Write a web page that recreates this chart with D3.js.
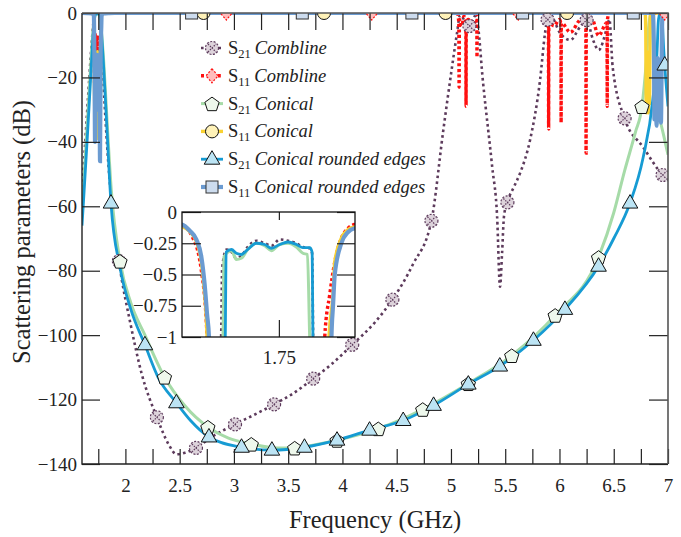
<!DOCTYPE html>
<html>
<head>
<meta charset="utf-8">
<script src="https://cdnjs.cloudflare.com/ajax/libs/d3/7.8.5/d3.min.js"></script>
<style>
  body { margin: 0; background: #fff; }
  svg text { font-family: "Liberation Serif", "Times New Roman", serif; fill: #222; }
</style>
</head>
<body>
<svg id="chart" width="681" height="537"></svg>
<script>
'use strict';

// Frequency (GHz) vs dB
const comblineS21 = [
  [1.60,-56],[1.63,-40],[1.66,-24],[1.69,-9],[1.705,-3],[1.712,-1.6],[1.7166,-1],[1.7172,-0.45],
  [1.7197,-0.30],[1.7226,-0.32],[1.7254,-0.37],[1.7283,-0.35],[1.732,-0.28],[1.737,-0.23],
  [1.7418,-0.25],[1.7457,-0.27],[1.7505,-0.22],[1.7553,-0.23],[1.7601,-0.25],[1.7639,-0.28],
  [1.7678,-0.29],[1.7692,-0.33],[1.7698,-1],[1.775,-5],[1.78,-9],[1.82,-35],[1.87,-58],[1.94,-77],
  [2.05,-97],[2.15,-112],[2.29,-125.5],[2.40,-134],[2.47,-137],[2.55,-136.5],[2.65,-135],
  [2.80,-131.5],[3.01,-127.7],[3.20,-124.5],[3.37,-121.5],[3.55,-118],[3.73,-113.5],[3.90,-109],
  [4.09,-103],[4.30,-96],[4.46,-89],[4.65,-78],[4.82,-64.5],[4.927,-37],[5.01,-16.7],[5.056,-6.2],
  [5.084,-0.6],[5.12,-2],[5.176,-4.3],[5.22,-1],[5.24,-2.2],[5.296,-21.7],[5.38,-47.8],
  [5.425,-63],[5.452,-85],[5.471,-74.5],[5.489,-63],[5.526,-58],[5.58,-54],[5.637,-49.7],
  [5.729,-39.4],[5.821,-20.8],[5.867,-6.2],[5.886,-2.2],[5.92,-1],[6.005,-6.2],[6.10,-8.4],
  [6.19,-4.3],[6.25,-2.2],[6.31,-8.4],[6.36,-11.5],[6.44,-4.3],[6.46,-2],[6.49,-16.7],
  [6.60,-32.7],[6.77,-41.6],[6.95,-50.3],[7.00,-52]
];

const comblineS11 = [
  [1.60,0],[1.65,-0.04],[1.694,-0.11],[1.70,-0.2],[1.705,-0.45],[1.7085,-1],[1.712,-8],[1.716,-22],
  [1.72,-6],[1.728,-18],[1.736,-7],[1.745,-20],[1.755,-7],[1.764,-18],[1.772,-6],[1.7765,-1],
  [1.7794,-0.66],[1.7823,-0.40],[1.7861,-0.21],[1.79,-0.13],[1.7938,-0.10],[1.85,-0.02],[1.90,0],
  [5.06,0],[5.072,-3],[5.075,-23],[5.078,-2],[5.10,-4],[5.12,-1],[5.137,-3],[5.139,-29],
  [5.141,-3],[5.16,-2],[5.20,-4],[5.238,-2],[5.24,-13.7],[5.242,-1],[5.26,0],
  [5.88,0],[5.898,-2],[5.90,-36],[5.902,-3],[5.95,-4],[6.00,-2],[6.013,-3],[6.015,-34],
  [6.017,-3],[6.10,-6],[6.20,-2],[6.243,-4],[6.245,-43.5],[6.247,-4],[6.30,-2],[6.36,-7],
  [6.438,-3],[6.44,-29],[6.442,-2],[6.46,0],[7.00,0]
];

const conicalS21 = [
  [1.60,-62],[1.63,-45],[1.66,-28],[1.69,-11],[1.705,-4],[1.714,-1.5],[1.7177,-1],[1.7182,-0.36],
  [1.7226,-0.31],[1.7254,-0.38],[1.7283,-0.37],[1.732,-0.30],[1.737,-0.25],[1.7418,-0.27],
  [1.7457,-0.31],[1.7505,-0.26],[1.7553,-0.25],[1.7601,-0.28],[1.7639,-0.33],[1.7665,-0.34],
  [1.7678,-1],[1.775,-4],[1.80,-15],[1.83,-33],[1.87,-55],[1.95,-77],[2.05,-90],[2.18,-100],
  [2.36,-113],[2.55,-122],[2.76,-128.5],[2.95,-132],[3.16,-133.8],[3.40,-135],[3.56,-135],
  [3.75,-134],[3.95,-132.6],[4.33,-129],[4.74,-123],[5.16,-115],[5.56,-106.3],[5.96,-93.8],
  [6.36,-75.8],[6.50,-62],[6.60,-49],[6.70,-37],[6.76,-29],[6.80,-15],[6.82,-5],[6.835,-1],
  [6.85,-0.8],[6.86,-6],[6.87,-15],[6.89,-26],[6.92,-32],[6.96,-38],[7.00,-44]
];

const conicalS11 = [
  [1.60,0],[1.65,-0.04],[1.694,-0.117],[1.6985,-0.157],[1.7023,-0.237],[1.7052,-0.40],
  [1.7071,-0.66],[1.7085,-1],[1.712,-10],[1.718,-30],[1.724,-12],[1.73,-25],[1.738,-39],
  [1.744,-12],[1.752,-28],[1.76,-14],[1.768,-30],[1.774,-8],[1.779,-1],[1.7813,-0.66],
  [1.7823,-0.40],[1.7861,-0.21],[1.79,-0.14],[1.7938,-0.12],[1.85,-0.03],[1.90,0],
  [6.79,0],[6.795,-5],[6.80,-31],[6.805,-12],[6.81,-30],[6.815,-15],[6.82,-31],[6.825,-12],
  [6.83,-28],[6.835,-3],[6.84,0],[7.00,0]
];

const roundedS21 = [
  [1.60,-66],[1.62,-55],[1.65,-38],[1.68,-20],[1.70,-8],[1.71,-3.5],[1.716,-1.6],[1.7190,-1],
  [1.7195,-0.32],[1.7226,-0.30],[1.7254,-0.33],[1.7283,-0.34],[1.732,-0.30],[1.737,-0.25],
  [1.7418,-0.26],[1.7457,-0.29],[1.7505,-0.26],[1.7553,-0.24],[1.7601,-0.26],[1.7639,-0.285],
  [1.7678,-0.285],[1.7692,-0.32],[1.7697,-1],[1.772,-2],[1.78,-6],[1.80,-17],[1.83,-36],
  [1.867,-59],[1.95,-79],[2.05,-92],[2.18,-103],[2.30,-113],[2.47,-121],[2.60,-126.5],
  [2.77,-131.6],[3.07,-134.8],[3.35,-135.7],[3.65,-134.8],[3.95,-132.6],[4.25,-129.5],
  [4.56,-126.5],[4.84,-121.8],[5.16,-115.2],[5.45,-109.6],[5.76,-101.6],[6.05,-92],
  [6.36,-78.6],[6.50,-70],[6.65,-59],[6.77,-45],[6.86,-27],[6.90,-11.5],[6.91,-3],[6.92,-0.5],
  [6.94,-0.5],[6.95,-4],[6.96,-11],[6.973,-17.7],[7.00,-29]
];

const roundedS11 = [
  [1.60,0],[1.65,-0.03],[1.694,-0.10],[1.6985,-0.15],[1.7023,-0.22],[1.7052,-0.36],[1.7071,-0.58],
  [1.7085,-0.82],[1.7096,-1],[1.712,-6],[1.716,-20],[1.72,-40],[1.724,-15],[1.73,-28],
  [1.736,-13],[1.742,-30],[1.748,-14],[1.754,-26],[1.76,-13],[1.766,-46],[1.772,-12],[1.778,-4],
  [1.7804,-1],[1.7813,-0.75],[1.7823,-0.50],[1.7861,-0.25],[1.79,-0.16],[1.7938,-0.13],
  [1.85,-0.03],[1.90,0],[6.86,0],[6.87,-10],[6.875,-33],[6.885,-15],[6.895,-35],[6.905,-14],
  [6.915,-32],[6.925,-15],[6.935,-34],[6.945,-5],[6.95,0],[7.00,0]
];

// frequencies where the marks sit
const comblineS21Marks = [1.94, 2.29, 2.65, 3.01, 3.37, 3.73, 4.09, 4.46, 4.82, 5.17, 5.52, 5.89, 6.25, 6.60, 6.95];
const comblineS11Marks = [2.93, 4.27, 5.62, 6.97];
const conicalS21Marks  = [1.95, 2.36, 2.76, 3.16, 3.56, 3.95, 4.33, 4.74, 5.16, 5.56, 5.96, 6.36, 6.76];
const conicalS11Marks  = [2.72, 3.83, 4.95, 6.07];
const roundedS21Marks  = [1.867, 2.18, 2.47, 2.77, 3.07, 3.35, 3.65, 3.95, 4.25, 4.56, 4.84, 5.16, 5.45, 5.76, 6.05, 6.36, 6.65, 6.97];
const roundedS11Marks  = [2.61, 3.63, 4.64, 5.66, 6.68];

// ticks
const yTicks       = [0, -20, -40, -60, -80, -100, -120, -140];
const xTickLabels  = [2, 2.5, 3, 3.5, 4, 4.5, 5, 5.5, 6, 6.5, 7];
const xTicks       = [1.75, 2, 2.25, 2.5, 2.75, 3, 3.25, 3.5, 3.75, 4, 4.25, 4.5, 4.75, 5, 5.25, 5.5, 5.75, 6, 6.25, 6.5, 6.75, 7];
const insetYTicks  = [0, -0.25, -0.5, -0.75, -1];
const insetXTicks  = [1.75];


const series = [
  {data: comblineS21, marks: comblineS21Marks, sub: '21', name: 'Combline', color: '#5d3b5c', width: 2.6, dash: '2.6,3.2', marker: 'otimes'},
  {data: comblineS11, marks: comblineS11Marks, sub: '11', name: 'Combline', color: '#ff1010', width: 3.4, dash: '3,2.6', marker: 'diamond'},
  {data: conicalS21,  marks: conicalS21Marks,  sub: '21', name: 'Conical', color: '#a6dba8', width: 3, dash: null, marker: 'pentagon'},
  {data: conicalS11,  marks: conicalS11Marks,  sub: '11', name: 'Conical', color: '#fad232', width: 3.4, dash: null, marker: 'circle'},
  {data: roundedS21,  marks: roundedS21Marks,  sub: '21', name: 'Conical rounded edges', color: '#169bd3', width: 2.8, dash: null, marker: 'triangle'},
  {data: roundedS11,  marks: roundedS11Marks,  sub: '11', name: 'Conical rounded edges', color: '#6b9bd1', width: 4.2, dash: null, marker: 'square'}
];

const plot  = {left: 82, right: 668, top: 13, bottom: 464},
      inset = {left: 182, right: 355, top: 212, bottom: 337};

const x  = d3.scaleLinear().domain([1.6, 7]).range([plot.left, plot.right]),
      y  = d3.scaleLinear().domain([-140, 0]).range([plot.bottom, plot.top]),
      xi = d3.scaleLinear().domain([1.694, 1.794]).range([inset.left, inset.right]),
      yi = d3.scaleLinear().domain([-1, 0]).range([inset.bottom, inset.top]);

const svg = d3.select('#chart');
const minus = d => d === 0 ? '0' : '\u2212' + Math.abs(d);

function valueAt(data, f) {
  const i = d3.bisector(d => d[0]).left(data, f);
  if (i <= 0) return data[0][1];
  if (i >= data.length) return data[data.length - 1][1];
  const a = data[i - 1], b = data[i];
  return a[1] + (b[1] - a[1]) * (f - a[0]) / (b[0] - a[0]);
}

function drawMarker(g, kind, cx, cy) {
  const m = g.append('g').attr('transform', `translate(${cx},${cy})`);
  if (kind === 'otimes') {
    m.append('circle').attr('r', 6.5).attr('fill', '#ddd3db')
      .attr('stroke', '#5d3b5c').attr('stroke-width', 1.2).attr('stroke-dasharray', '2,1.5');
    m.append('path').attr('d', 'M-4,-4L4,4M-4,4L4,-4').attr('fill', 'none')
      .attr('stroke', '#5d3b5c').attr('stroke-width', 1.2).attr('stroke-dasharray', '1.5,1.2');
  } else if (kind === 'diamond') {
    m.append('path').attr('d', 'M0,-7L6,0L0,7L-6,0Z').attr('fill', '#ffbcbc')
      .attr('stroke', '#ff1010').attr('stroke-width', 1.2).attr('stroke-dasharray', '2,1.5');
  } else if (kind === 'pentagon') {
    const pts = d3.range(5).map(k => {
      const a = -Math.PI / 2 + k * 2 * Math.PI / 5;
      return [7.5 * Math.cos(a), 7.5 * Math.sin(a) + 1];
    });
    m.append('path').attr('d', 'M' + pts.join('L') + 'Z').attr('fill', '#eef8ec')
      .attr('stroke', '#111').attr('stroke-width', 1);
  } else if (kind === 'circle') {
    m.append('circle').attr('r', 6.5).attr('fill', '#fff2b8')
      .attr('stroke', '#111').attr('stroke-width', 1);
  } else if (kind === 'triangle') {
    m.append('path').attr('d', 'M0,-8.5L7.8,5L-7.8,5Z').attr('fill', '#bce4f4')
      .attr('stroke', '#111').attr('stroke-width', 1);
  } else if (kind === 'square') {
    m.append('rect').attr('x', -6).attr('y', -6).attr('width', 12).attr('height', 12)
      .attr('fill', '#cddcee').attr('stroke', '#333').attr('stroke-width', 1);
  }
}

// clip paths
const defs = svg.append('defs');
defs.append('clipPath').attr('id', 'clipMain').append('rect')
  .attr('x', plot.left).attr('y', plot.top)
  .attr('width', plot.right - plot.left).attr('height', plot.bottom - plot.top);
defs.append('clipPath').attr('id', 'clipInset').append('rect')
  .attr('x', inset.left).attr('y', inset.top)
  .attr('width', inset.right - inset.left).attr('height', inset.bottom - inset.top);


// Main curves
const lineMain = d3.line().x(d => x(d[0])).y(d => y(d[1])).curve(d3.curveMonotoneX);
const gMain = svg.append('g').attr('clip-path', 'url(#clipMain)');

series.forEach(s => {
  gMain.append('path').datum(s.data)
    .attr('d', lineMain)
    .attr('fill', 'none')
    .attr('stroke', s.color)
    .attr('stroke-width', s.width)
    .attr('stroke-dasharray', s.dash);
});

series.forEach(s => {
  s.marks.forEach(f => drawMarker(gMain, s.marker, x(f), y(valueAt(s.data, f))));
});


// Axes
const tickStyle = g => {
  g.select('.domain').remove();
  g.selectAll('.tick line').attr('stroke', '#222').attr('stroke-width', 1.2);
  g.selectAll('.tick text').attr('font-size', 19).attr('fill', '#222')
    .attr('font-family', '"Liberation Serif", serif');
};

svg.append('g').attr('transform', `translate(${plot.left},0)`)
  .call(d3.axisLeft(y).tickValues(yTicks).tickSize(-18).tickPadding(5).tickFormat(minus))
  .call(tickStyle);

svg.append('g').attr('transform', `translate(${plot.right},0)`)
  .call(d3.axisRight(y).tickValues(yTicks).tickSize(-19).tickFormat(''))
  .call(tickStyle);

svg.append('g').attr('transform', `translate(0,${plot.bottom})`)
  .call(d3.axisBottom(x).tickValues(xTicks).tickSize(-15).tickPadding(15)
    .tickFormat(d => xTickLabels.includes(d) ? String(d) : ''))
  .call(tickStyle);

svg.append('g').attr('transform', `translate(0,${plot.top})`)
  .call(d3.axisTop(x).tickValues(xTicks).tickSize(-17).tickFormat(''))
  .call(tickStyle);

// frame: left/bottom dark, top/right a little lighter
svg.append('path')
  .attr('d', `M${plot.left},${plot.top}V${plot.bottom}H${plot.right}`)
  .attr('fill', 'none').attr('stroke', '#222').attr('stroke-width', 1.4);
svg.append('path')
  .attr('d', `M${plot.left},${plot.top}H${plot.right}V${plot.bottom}`)
  .attr('fill', 'none').attr('stroke', '#555').attr('stroke-width', 1.6);

svg.append('text')
  .attr('x', (plot.left + plot.right) / 2).attr('y', 528)
  .attr('text-anchor', 'middle').attr('font-size', 24.5)
  .text('Frequency (GHz)');

svg.append('text')
  .attr('transform', 'translate(30,232) rotate(-90)')
  .attr('text-anchor', 'middle').attr('font-size', 24.5)
  .text('Scattering parameters (dB)');


// Inset
const lineInset = d3.line().x(d => xi(d[0])).y(d => yi(d[1])).curve(d3.curveMonotoneX);

svg.append('rect')
  .attr('x', inset.left).attr('y', inset.top)
  .attr('width', inset.right - inset.left).attr('height', inset.bottom - inset.top)
  .attr('fill', '#fff');

const gInset = svg.append('g').attr('clip-path', 'url(#clipInset)');
series.forEach(s => {
  gInset.append('path').datum(s.data)
    .attr('d', lineInset)
    .attr('fill', 'none')
    .attr('stroke', s.color)
    .attr('stroke-width', s.width)
    .attr('stroke-dasharray', s.dash);
});

svg.append('g').attr('transform', `translate(${inset.left},0)`)
  .call(d3.axisLeft(yi).tickValues(insetYTicks).tickSize(-19).tickPadding(5).tickFormat(minus))
  .call(tickStyle);
svg.append('g').attr('transform', `translate(${inset.right},0)`)
  .call(d3.axisRight(yi).tickValues(insetYTicks).tickSize(-18).tickFormat(''))
  .call(tickStyle);
svg.append('g').attr('transform', `translate(0,${inset.bottom})`)
  .call(d3.axisBottom(xi).tickValues(insetXTicks).tickSize(-17).tickPadding(14).tickFormat(d => d.toFixed(2)))
  .call(tickStyle);
svg.append('g').attr('transform', `translate(0,${inset.top})`)
  .call(d3.axisTop(xi).tickValues(insetXTicks).tickSize(-8).tickFormat(''))
  .call(tickStyle);

svg.append('rect')
  .attr('x', inset.left).attr('y', inset.top)
  .attr('width', inset.right - inset.left).attr('height', inset.bottom - inset.top)
  .attr('fill', 'none').attr('stroke', '#111').attr('stroke-width', 1.3);


// Legend
const legend = svg.append('g');
series.forEach((s, i) => {
  const ly = 48 + i * 27.8;
  legend.append('line')
    .attr('x1', 201).attr('x2', 223).attr('y1', ly).attr('y2', ly)
    .attr('stroke', s.color).attr('stroke-width', s.width)
    .attr('stroke-dasharray', s.dash);
  drawMarker(legend, s.marker, 212, ly);

  const t = legend.append('text')
    .attr('x', 228).attr('y', ly + 6)
    .attr('font-size', 18.5);
  t.append('tspan').text('S');
  t.append('tspan').attr('font-size', 12.5).attr('dy', 4).text(s.sub);
  t.append('tspan').attr('dy', -4).attr('dx', 4).attr('font-style', 'italic').text(s.name);
});
</script>
</body>
</html>
